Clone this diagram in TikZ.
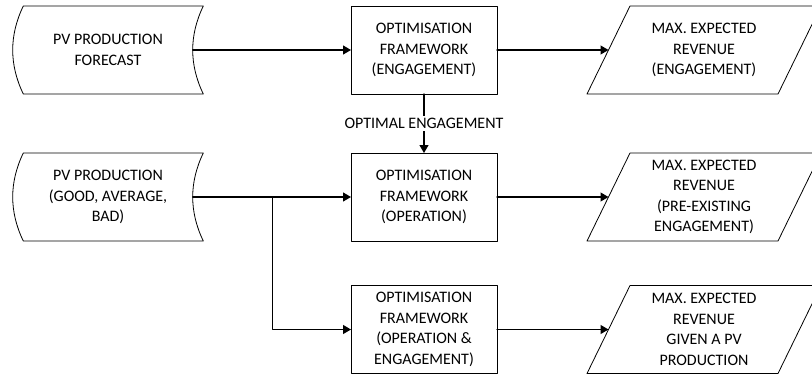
\documentclass[tikz,border=0pt]{standalone}
\usepackage{fontspec}
\setmainfont{Carlito}
\usetikzlibrary{arrows.meta,calc}
\tikzset{
  txt/.style={align=center, font=\fontsize{16}{20.5}\selectfont, inner sep=2pt, outer sep=0pt},
  optbox/.style={txt, rectangle, draw, line width=0.8pt, minimum width=146pt, minimum height=88pt},
  srcbox/.style={txt, minimum width=190.6pt, minimum height=88pt},
  resbox/.style={txt, minimum width=234pt, minimum height=88pt},
  outline/.style={line width=0.8pt},
  arr/.style={-{Triangle[length=8pt,width=9pt]}, line width=1.2pt},
  every picture/.style={line cap=round, line join=round}
}
\begin{document}
\begin{tikzpicture}[x=1pt, y=-1pt]
    \useasboundingbox (0,0) rectangle (812,376);
    \clip (0,0) rectangle (812,376);

    \node[srcbox] (pv1) at (108,50) {PV PRODUCTION\\FORECAST};
    \node[srcbox] (pv2) at (108,197) {PV PRODUCTION\\(GOOD, AVERAGE,\\BAD)};

    \node[optbox] (opt1) at (424,50) {OPTIMISATION\\FRAMEWORK\\(ENGAGEMENT)};
    \node[optbox] (opt2) at (424,197) {OPTIMISATION\\FRAMEWORK\\(OPERATION)};
    \node[optbox] (opt3) at (424,329.5) {OPTIMISATION\\FRAMEWORK\\(OPERATION \&\\ENGAGEMENT)};

    \node[resbox] (rev1) at (704,50) {MAX. EXPECTED\\REVENUE\\(ENGAGEMENT)};
    \node[resbox] (rev2) at (704,197) {MAX. EXPECTED\\REVENUE\\(PRE-EXISTING\\ENGAGEMENT)};
    \node[resbox] (rev3) at (704,329.5) {MAX. EXPECTED\\REVENUE\\GIVEN A PV\\PRODUCTION};

    % stored data outlines
    \foreach \n in {pv1,pv2}{
      \draw[outline] ($(\n.north west)+(10.6,0)$) -- (\n.north east)
        .. controls ($(\n.east)+(-14.13,-14.67)$) and ($(\n.east)+(-14.13,14.67)$) .. (\n.south east)
        -- ($(\n.south west)+(10.6,0)$)
        .. controls ($(\n.west)+(-3.53,14.67)$) and ($(\n.west)+(-3.53,-14.67)$) .. ($(\n.north west)+(10.6,0)$)
        -- cycle;
      \coordinate (\n-out) at ($(\n.east)+(-10.6,0)$);
    }

    % parallelogram outlines
    \foreach \n in {rev1,rev2,rev3}{
      \draw[outline] (\n.south west) -- ($(\n.south east)+(-43,0)$) -- (\n.north east)
        -- ($(\n.north west)+(43,0)$) -- cycle;
      \coordinate (\n-in) at ($(\n.west)+(21.5,0)$);
    }

    \coordinate (split) at (272.7,197);

    \draw[arr] (pv1-out) -- (opt1.west);
    \draw[arr] (opt1.east) -- (rev1-in);
    \draw[arr] (opt1.south) -- node[txt, fill=white] {OPTIMAL ENGAGEMENT} (opt2.north);
    \draw[arr] (pv2-out) -- (opt2.west);
    \draw[arr] (split) |- (opt3.west);
    \draw[arr] (opt2.east) -- (rev2-in);
    \draw[arr] (opt3.east) -- (rev3-in);
  \end{tikzpicture}
\end{document}
